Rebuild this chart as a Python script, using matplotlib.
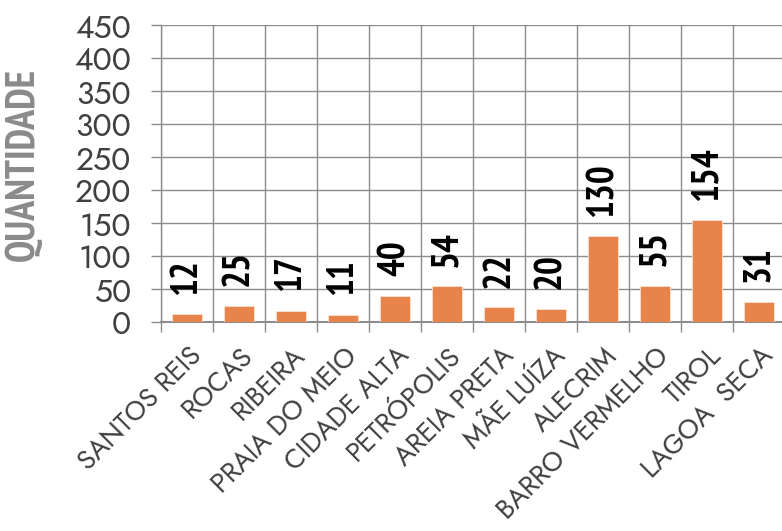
import matplotlib
matplotlib.use("Agg")
import matplotlib.pyplot as plt
import numpy as np

bairros = ["SANTOS REIS", "ROCAS", "RIBEIRA", "PRAIA DO MEIO", "CIDADE ALTA",
           "PETRÓPOLIS", "AREIA PRETA", "MÃE LUÍZA", "ALECRIM",
           "BARRO VERMELHO", "TIROL", "LAGOA  SECA"]
quantidade = [12, 25, 17, 11, 40, 54, 22, 20, 130, 55, 154, 31]
y_ticks = [0, 50, 100, 150, 200, 250, 300, 350, 400, 450]

W, H = 782, 531
fig = plt.figure(figsize=(W / 100, H / 100), dpi=100)
ax = fig.add_axes([161 / W, 1 - 322 / H, 624 / W, 297 / H])

grid_c = "#8c8c8c"
bar_c = "#E8834C"
text_c = "#404040"
label_font = ["PT Sans Narrow", "Roboto Condensed", "DejaVu Sans"]
tick_font = ["Jost", "Questrial", "DejaVu Sans"]

x = np.arange(len(bairros))
ax.bar(x, quantidade, width=0.56, color=bar_c, edgecolor="#fbe3d4",
       linewidth=0.6, zorder=3)

for xi, v in zip(x, quantidade):
    ax.annotate(str(v), xy=(xi, v), xytext=(0, 14), textcoords="offset points",
                rotation=90, ha="center", va="bottom", fontsize=27,
                fontweight="bold", family=label_font, color="black", zorder=4)

ax.set_xlim(-0.5, len(bairros) - 0.5)
ax.set_ylim(0, 450)

# y axis: gridlines at every 50 with outward ticks
ax.set_yticks(y_ticks)
ax.set_yticklabels([str(t) for t in y_ticks], family=tick_font, fontsize=23,
                   color=text_c)
ax.tick_params(axis="y", length=7.5, width=1, color=grid_c, pad=14)
ax.yaxis.grid(True, color=grid_c, linewidth=1, zorder=0)

# x axis: labels at category centres, lines at category boundaries
ax.set_xticks(x)
ax.set_xticklabels(bairros, rotation=45, ha="right", rotation_mode="anchor",
                   family=tick_font, fontsize=19.5, color=text_c)
ax.tick_params(axis="x", which="major", length=0, pad=14)
ax.set_xticks(np.arange(-0.5, len(bairros)), minor=True)
ax.tick_params(axis="x", which="minor", length=7.5, width=1, color=grid_c)
ax.xaxis.grid(True, which="minor", color=grid_c, linewidth=1, zorder=0)
ax.xaxis.grid(False, which="major")

for side in ["top", "right"]:
    ax.spines[side].set_visible(False)
for side in ["left", "bottom"]:
    ax.spines[side].set_color(grid_c)
    ax.spines[side].set_linewidth(1)
ax.spines["bottom"].set_linewidth(1.5)

fig.text(23.5 / W, 1 - 164.5 / H, "QUANTIDADE", rotation=90, ha="center",
         va="center", fontsize=29, fontweight="bold", family=label_font,
         color="#8a8a8a")

fig.savefig("out.png", dpi=100)
